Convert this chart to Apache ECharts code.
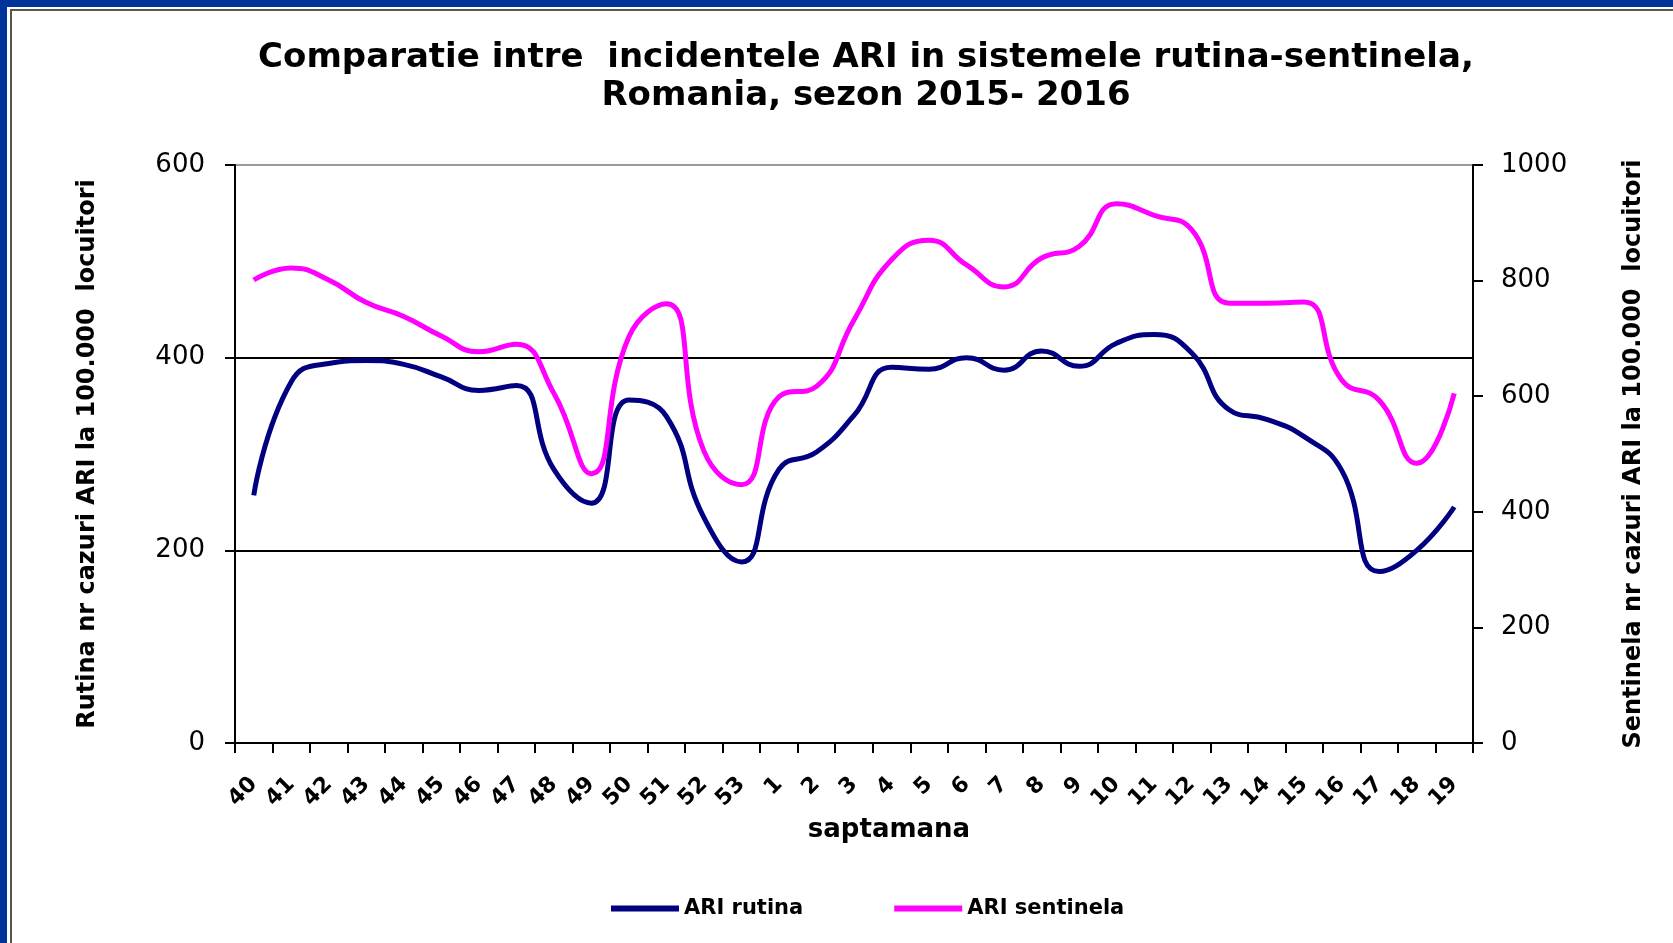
<!DOCTYPE html>
<html>
<head>
<meta charset="utf-8">
<script src="https://cdn.jsdelivr.net/npm/echarts@6/dist/echarts.min.js"></script>
<style>
  body { margin: 0; background: #003399; overflow: hidden; }
  .frame { position: absolute; left: 7px; top: 7px; width: 1700px; height: 1000px; background: #fff; }
  .frame-line { position: absolute; left: 10px; top: 9px; width: 1700px; height: 1000px; border: 2px solid #555; }
  #chart { position: absolute; left: 0; top: 0; width: 1673px; height: 943px; }
</style>
</head>
<body>
<div class="frame"></div>
<div class="frame-line"></div>
<div id="chart"></div>
<script>
  // saptamani sezon 2015-2016
  let weeks = ['40', '41', '42', '43', '44', '45', '46', '47', '48', '49', '50', '51', '52', '53',
    '1', '2', '3', '4', '5', '6', '7', '8', '9', '10', '11', '12', '13', '14', '15', '16', '17', '18', '19']
  // incidenta ARI rutina (axa stanga)
  let rutina = [257, 375, 394, 397, 393, 380, 366, 371, 284, 249, 356, 339, 234, 188,
    284, 302, 340, 390, 388, 400, 387, 407, 391, 415, 424, 405, 346, 336, 318, 283, 178, 200, 245]
  // incidenta ARI sentinela (axa dreapta)
  let sentinela = [801, 822, 801, 762, 738, 704, 677, 690, 605, 466, 703, 760, 505, 447,
    599, 617, 732, 836, 870, 827, 789, 839, 859, 933, 913, 888, 761, 761, 763, 628, 593, 484, 605]
  let leftTicks = { min: 0, max: 600, interval: 200 }
  let rightTicks = { min: 0, max: 1000, interval: 200 }

  let font = 'DejaVu Sans'
  let axisLine = { show: true, lineStyle: { color: '#000', width: 2 } }
  let axisTick = { show: true, inside: false, length: 10, lineStyle: { color: '#000', width: 2 } }

  let chart = echarts.init(document.getElementById('chart'))
  let option = {
    animation: false,
    title: {
      text: 'Comparatie intre  incidentele ARI in sistemele rutina-sentinela,\nRomania, sezon 2015- 2016',
      left: 861,
      top: 34,
      textAlign: 'center',
      textStyle: { fontFamily: font, fontWeight: 'bold', fontSize: 34, lineHeight: 38, color: '#000' }
    },
    legend: {
      data: ['ARI rutina', 'ARI sentinela'],
      left: 606,
      top: 893,
      icon: 'rect',
      itemWidth: 68,
      itemHeight: 6,
      itemGap: 91,
      textStyle: { fontFamily: font, fontWeight: 'bold', fontSize: 21, color: '#000' }
    },
    grid: { left: 235, right: 200, top: 165, bottom: 200, containLabel: false, outerBoundsMode: 'none' },
    xAxis: {
      type: 'category',
      data: weeks,
      boundaryGap: true,
      name: 'saptamana',
      nameLocation: 'middle',
      nameGap: 74,
      nameTextStyle: { fontFamily: font, fontWeight: 'bold', fontSize: 26, color: '#000', padding: [0, 0, 0, 70] },
      axisLine: axisLine,
      axisTick: Object.assign({ interval: 0 }, axisTick),
      axisLabel: { interval: 0, rotate: 45, margin: 38, fontFamily: font, fontWeight: 'bold', fontSize: 22, color: '#000' },
      splitLine: { show: false }
    },
    yAxis: [{
      type: 'value',
      position: 'left',
      min: leftTicks.min,
      max: leftTicks.max,
      interval: leftTicks.interval,
      name: 'Rutina nr cazuri ARI la 100.000  locuitori',
      nameLocation: 'middle',
      nameRotate: 90,
      nameGap: 135,
      nameTextStyle: { fontFamily: font, fontWeight: 'bold', fontSize: 24, color: '#000' },
      axisLine: axisLine,
      axisTick: axisTick,
      axisLabel: { margin: 30, fontFamily: font, fontSize: 26, color: '#000' },
      splitLine: { show: true, lineStyle: { color: ['#000', '#000', '#000', '#9a9a9a'], width: 2 } }
    }, {
      type: 'value',
      position: 'right',
      min: rightTicks.min,
      max: rightTicks.max,
      interval: rightTicks.interval,
      name: 'Sentinela nr cazuri ARI la 100.000  locuitori',
      nameLocation: 'middle',
      nameRotate: 90,
      nameGap: 149,
      nameTextStyle: { fontFamily: font, fontWeight: 'bold', fontSize: 24, color: '#000' },
      axisLine: axisLine,
      axisTick: axisTick,
      axisLabel: { margin: 28, fontFamily: font, fontSize: 26, color: '#000', formatter: v => String(v) },
      splitLine: { show: false }
    }],
    series: [{
      name: 'ARI rutina',
      type: 'line',
      yAxisIndex: 0,
      data: rutina,
      smooth: 0.5,
      showSymbol: false,
      symbol: 'none',
      itemStyle: { color: '#000080' },
      lineStyle: { color: '#000080', width: 5 }
    }, {
      name: 'ARI sentinela',
      type: 'line',
      yAxisIndex: 1,
      data: sentinela,
      smooth: 0.5,
      showSymbol: false,
      symbol: 'none',
      itemStyle: { color: '#ff00ff' },
      lineStyle: { color: '#ff00ff', width: 5 }
    }]
  }
  chart.setOption(option)
</script>
</body>
</html>
